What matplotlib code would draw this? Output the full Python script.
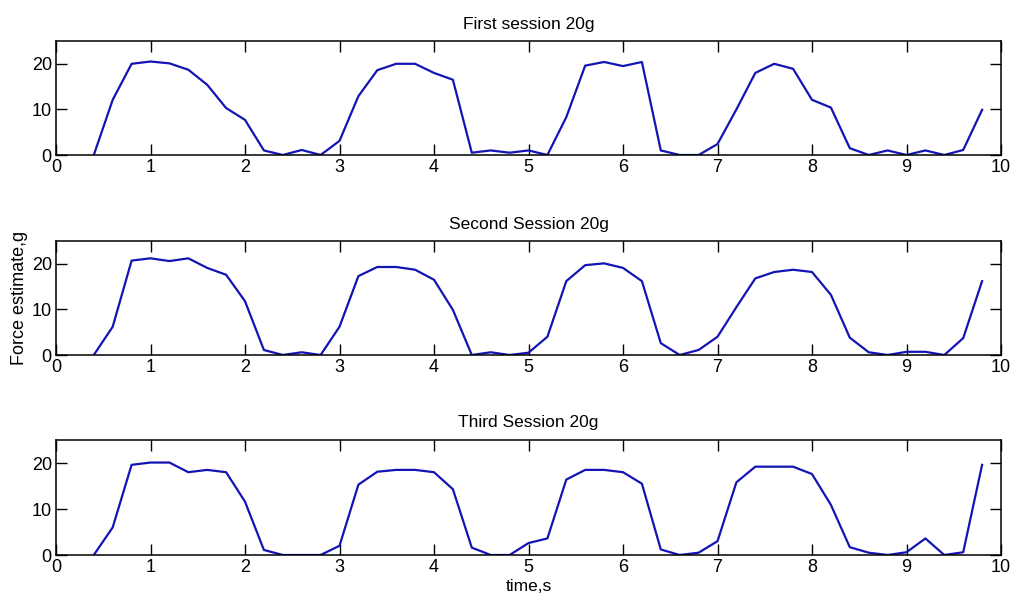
import numpy as np
import matplotlib.pyplot as plt
from matplotlib import font_manager

# ---------------- data ----------------
t = np.round(np.arange(0.4, 9.81, 0.2), 1)   # 0.4 .. 9.8 s, 48 samples

first = [0, 12.1, 20.0, 20.5, 20.1, 18.7, 15.4, 10.3, 7.7, 1.0, 0, 1.1,
         0, 3.1, 12.9, 18.6, 20.0, 20.0, 18.0, 16.5, 0.5, 1.0, 0.5, 1.0,
         0, 8.3, 19.6, 20.4, 19.5, 20.4, 1.0, 0, 0, 2.4, 10.0, 18.0,
         20.0, 18.9, 12.1, 10.4, 1.5, 0, 1.0, 0, 1.0, 0, 1.1, 9.9]

second = [0, 6.2, 20.7, 21.2, 20.6, 21.2, 19.1, 17.6, 11.8, 1.1, 0, 0.6,
          0, 6.2, 17.3, 19.3, 19.3, 18.7, 16.5, 9.9, 0, 0.6, 0, 0.5,
          4.0, 16.2, 19.7, 20.1, 19.1, 16.2, 2.6, 0, 1.1, 4.0, 10.5, 16.8,
          18.2, 18.7, 18.2, 13.2, 3.8, 0.6, 0, 0.7, 0.7, 0, 3.7, 16.2]

third = [0, 6.0, 19.6, 20.1, 20.1, 18.0, 18.5, 18.0, 11.6, 1.1, 0, 0,
         0, 2.0, 15.3, 18.1, 18.5, 18.5, 18.0, 14.3, 1.6, 0, 0, 2.6,
         3.6, 16.4, 18.5, 18.5, 18.0, 15.5, 1.2, 0, 0.5, 3.0, 15.8, 19.2,
         19.2, 19.2, 17.6, 10.9, 1.7, 0.5, 0, 0.6, 3.6, 0, 0.6, 19.6]

titles = ['First session 20g', 'Second Session 20g', 'Third Session 20g']
series = [first, second, third]

# ---------------- style ----------------
names = {f.name for f in font_manager.fontManager.ttflist}
fam = 'Liberation Sans Narrow' if 'Liberation Sans Narrow' in names else 'Liberation Sans'
plt.rcParams['font.family'] = [fam, 'DejaVu Sans']
line_color = '#1414b4'

fig = plt.figure(figsize=(10.16, 6.05), dpi=100)
W, H = 1016, 605
boxes = [(41, 155), (241, 355), (440, 555)]   # top, bottom in pixels
left, right = 56, 1001

axes = []
for (top, bot), title, y in zip(boxes, titles, series):
    ax = fig.add_axes([left / W, 1 - bot / H, (right - left) / W, (bot - top) / H])
    ax.plot(t, y, color=line_color, linewidth=1.6)
    ax.set_xlim(0, 10)
    ax.set_ylim(0, 25)
    ax.set_xticks(range(0, 11))
    ax.set_yticks([0, 10, 20])
    ax.tick_params(direction='in', length=8, width=1, top=True, right=True,
                   labelsize=13, pad=3)
    for s in ax.spines.values():
        s.set_linewidth(1.1)
    ax.set_title(title, fontsize=12.5, pad=9)
    axes.append(ax)

axes[1].set_ylabel('Force estimate,g', fontsize=13, labelpad=3)
axes[2].set_xlabel('time,s', fontsize=12.5, labelpad=2)

fig.savefig('out.png', dpi=100)
